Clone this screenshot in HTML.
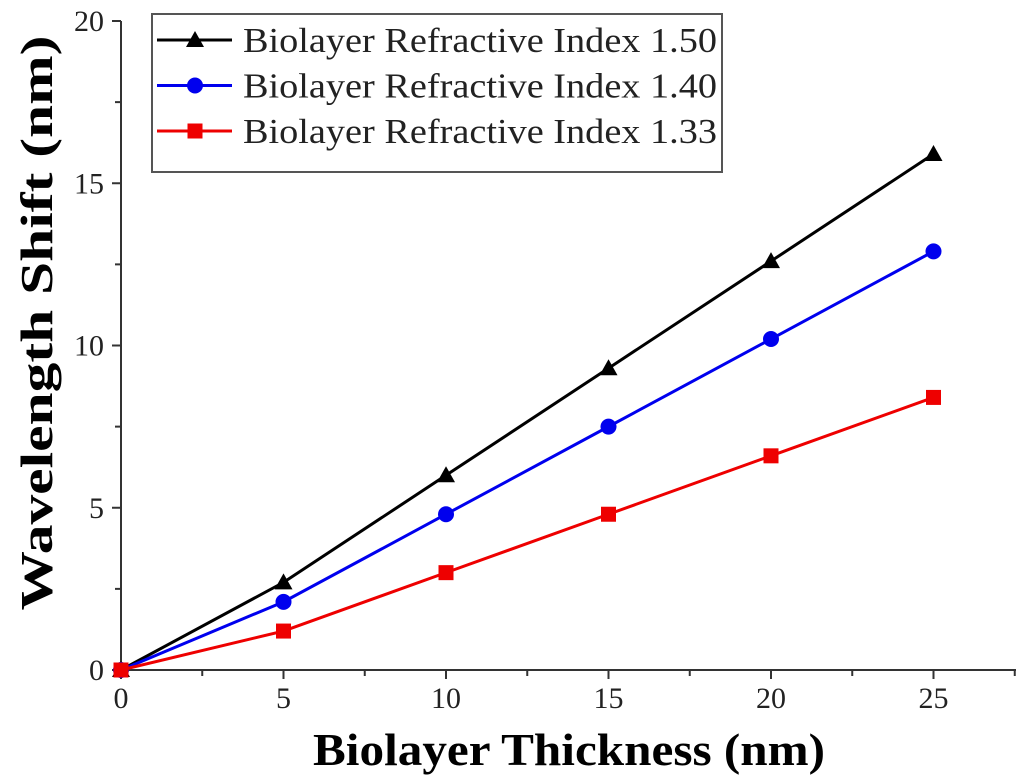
<!DOCTYPE html>
<html><head><meta charset="utf-8"><style>
html,body{margin:0;padding:0;background:#fff;}
svg{display:block;font-family:"Liberation Serif",serif;}
</style></head><body>
<svg id="chart" width="1024" height="780" viewBox="0 0 1024 780" xmlns="http://www.w3.org/2000/svg">
<g id="axes"></g><g id="series"></g><g id="legend"></g>
<text x="569" y="765" text-anchor="middle" font-size="46" font-weight="bold" textLength="512" lengthAdjust="spacingAndGlyphs">Biolayer Thickness (nm)</text>
<text transform="translate(52,323) rotate(-90)" text-anchor="middle" font-size="46" font-weight="bold" textLength="575" lengthAdjust="spacingAndGlyphs">Wavelength Shift (nm)</text>
</svg>
<script>
const xValues=[0,5,10,15,20,25];
const s150=[0,2.7,6.0,9.3,12.6,15.9];
const s140=[0,2.1,4.8,7.5,10.2,12.9];
const s133=[0,1.2,3.0,4.8,6.6,8.4];
const xTicks=[0,5,10,15,20,25];
const yTicks=[0,5,10,15,20];
const seriesNames=["Biolayer Refractive Index 1.50","Biolayer Refractive Index 1.40","Biolayer Refractive Index 1.33"];
const NS="http://www.w3.org/2000/svg";
const X=v=>121+v*32.5, Y=v=>670-v*32.45;
function mk(tag,attrs,parent){const e=document.createElementNS(NS,tag);for(const k in attrs)e.setAttribute(k,attrs[k]);parent.appendChild(e);return e;}
const axes=document.getElementById('axes');
let e=mk('line',{x1:121,y1:670,x2:1016,y2:670,stroke:'#333','stroke-width':2},axes);


e=mk('line',{x1:121,y1:670,x2:121,y2:Y(20),stroke:'#333','stroke-width':2},axes);


for(let v=0;v<=27.5;v+=2.5){const maj=v%5===0;e=mk('line',{x1:X(v),y1:670,x2:X(v),y2:670+(maj?9:6),stroke:'#333','stroke-width':2},axes);

}
for(let v=0;v<=20;v+=2.5){const maj=v%5===0;e=mk('line',{x1:121,y1:Y(v),x2:121-(maj?9:6),y2:Y(v),stroke:'#333','stroke-width':2},axes);

}
xTicks.forEach(v=>{e=mk('text',{x:X(v),y:708,'text-anchor':'middle','font-size':30,fill:'#222'},axes);e.textContent=v;

});
yTicks.forEach(v=>{e=mk('text',{x:104,y:Y(v)+10,'text-anchor':'end','font-size':30,fill:'#222'},axes);e.textContent=v;

});
const ser=document.getElementById('series');
function marker(kind,cx,cy,color,parent){
 if(kind==='tri') return mk('polygon',{points:`${cx},${cy-9} ${cx-9},${cy+7} ${cx+9},${cy+7}`,fill:color},parent);
 if(kind==='circ') return mk('circle',{cx,cy,r:8,fill:color},parent);
 return mk('rect',{x:cx-7.5,y:cy-7.5,width:15,height:15,fill:color},parent);
}
const defs=[[s150,'#000','tri','series-1-50'],[s140,'#0000ee','circ','series-1-40'],[s133,'#ee0000','sq','series-1-33']];
defs.forEach(([d,c,k,n])=>{
 const g=mk('g',{},ser);
 
 
 const l=mk('polyline',{points:xValues.map((x,i)=>X(x)+','+Y(d[i])).join(' '),fill:'none',stroke:c,'stroke-width':3},g);
 
 
 xValues.forEach((x,i)=>{const m=marker(k,X(x),Y(d[i]),c,g);
 
 });
});
const leg=document.getElementById('legend');
e=mk('rect',{x:152,y:14,width:570,height:158,fill:'#fff',stroke:'#555','stroke-width':2},leg);


defs.forEach(([d,c,k,n],i)=>{
 const y=40+i*45.5;
 const g=mk('g',{},leg);
 
 
 mk('line',{x1:157,y1:y,x2:232,y2:y,stroke:c,'stroke-width':3},g);
 marker(k,195,y,c,g);
 const t=mk('text',{x:243,y:y+12,'font-size':35,fill:'#222',textLength:474,lengthAdjust:'spacingAndGlyphs'},g);t.textContent=seriesNames[i];
});
</script>
</body></html>
